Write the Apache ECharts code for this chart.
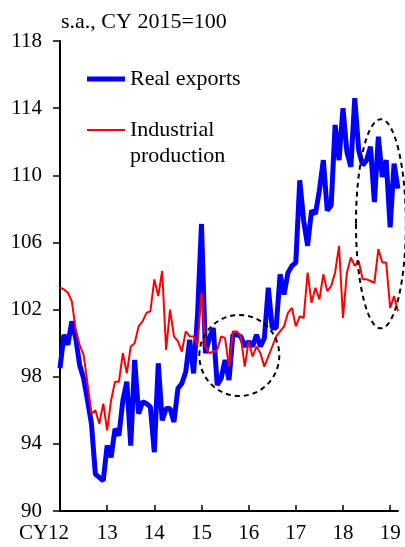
<!DOCTYPE html>
<html>
<head>
<meta charset="utf-8">
<script src="https://cdn.jsdelivr.net/npm/echarts@6/dist/echarts.min.js"></script>
<style>
html,body{margin:0;padding:0;background:#fff;}
#chart{width:405px;height:547px;}
</style>
</head>
<body>
<div id="chart"></div>
<script>
// Monthly data, Jan 2012 .. Mar 2019 (index 0 = Jan 2012)
const realExports = [
  98.5,100.5,99.9,101.3,100.3,98.7,97.9,96.6,95.2,92.2,92.0,91.8,
  93.9,93.2,94.9,94.5,96.6,97.7,93.9,99.0,95.8,96.5,96.4,96.2,
  93.5,98.8,95.4,96.1,96.1,95.3,97.3,97.6,98.3,100.2,98.2,101.7,
  107.1,99.4,100.3,100.9,97.5,97.9,99.0,97.8,100.5,100.5,100.4,99.8,
  100.1,99.8,100.5,99.8,100.3,103.3,100.9,100.9,104.1,102.9,104.2,104.6,
  104.8,109.7,107.3,105.8,107.9,107.7,109.1,110.9,107.9,108.2,113.0,110.9,
  114.0,111.4,110.5,114.6,111.5,110.6,110.9,111.7,108.4,112.3,109.9,110.9,
  106.9,110.7,109.2
];
const industrialProduction = [
  103.3,103.2,103.0,102.5,100.8,99.9,99.3,97.6,95.8,96.0,95.2,96.4,
  94.8,96.6,97.7,97.7,99.4,98.2,99.8,100.0,101.0,101.3,101.8,101.9,
  103.8,102.8,104.3,99.6,102.0,100.4,100.1,99.5,100.7,100.4,100.4,99.9,
  103.0,99.8,99.4,99.5,99.6,100.4,100.3,98.6,100.7,100.7,100.4,98.6,
  100.1,99.2,99.8,99.4,98.6,99.2,99.8,100.4,100.7,101.0,101.8,102.1,
  101.0,101.6,101.5,104.2,102.4,103.3,102.6,104.1,103.1,103.4,104.2,105.8,
  101.5,104.2,105.1,104.6,104.9,103.8,103.8,103.7,103.6,105.6,104.8,104.8,
  102.1,102.8,101.9
];
const tickMonths = [0,12,24,36,48,60,72,84];
const tickLabels = ['CY12','13','14','15','16','17','18','19'];
const yTicks = [90,94,98,102,106,110,114,118];
// dashed annotation ellipses: [xMin, xMax, yMin, yMax] in data units (month index, index value)
const ellipses = [
  [35.45, 55.8, 96.85, 101.68],
  [75.3, 88.0, 100.88, 113.34]
];

const FONT = '"Liberation Serif", "Times New Roman", serif';
const chart = echarts.init(document.getElementById('chart'), null, {renderer:'canvas'});

const option = {
  animation: false,
  backgroundColor: '#ffffff',
  title: {
    text: 's.a., CY 2015=100',
    left: 61, top: 11, padding: 0,
    textStyle: {fontFamily: FONT, fontSize: 22, fontWeight: 'normal', color: '#000'}
  },
  legend: [
    {
      data: ['Real exports'],
      left: 87, top: 66, padding: 0,
      icon: 'rect', itemWidth: 38, itemHeight: 5,
      textStyle: {fontFamily: FONT, fontSize: 22, color: '#000', lineHeight: 26},
      selectedMode: false
    },
    {
      data: ['Industrial production'],
      left: 87, top: 91, padding: 0,
      icon: 'rect', itemWidth: 38, itemHeight: 2,
      formatter: function () { return '\u00a0\nIndustrial\nproduction'; },
      textStyle: {fontFamily: FONT, fontSize: 22, color: '#000', lineHeight: 26},
      selectedMode: false
    }
  ],
  grid: {left: 60, right: 7, top: 41, bottom: 36, containLabel: false},
  xAxis: {
    type: 'value',
    min: 0, max: 86, interval: 12,
    splitLine: {show: false},
    axisLine: {lineStyle: {color: '#000', width: 2}},
    axisTick: {show: true, inside: true, length: 6, lineStyle: {color: '#000', width: 1.5}, customValues: tickMonths},
    axisLabel: {
      customValues: tickMonths,
      margin: 12,
      fontFamily: FONT, fontSize: 21, color: '#000',
      formatter: function (v) {
        const k = tickMonths.indexOf(v);
        if (k < 0) return '';
        return k === 0 ? '{cy|' + tickLabels[k] + '}' : tickLabels[k];
      },
      rich: {cy: {fontFamily: FONT, fontSize: 21, color: '#000', padding: [0, 32, 0, 0]}}
    }
  },
  yAxis: {
    type: 'value',
    min: yTicks[0], max: yTicks[yTicks.length - 1], interval: 4,
    splitLine: {show: false},
    axisLine: {show: true, lineStyle: {color: '#000', width: 2}},
    axisTick: {show: true, inside: false, length: 7, lineStyle: {color: '#000', width: 1.5}},
    axisLabel: {margin: 18, fontFamily: FONT, fontSize: 21, color: '#000'}
  },
  series: [
    {
      name: 'Real exports',
      type: 'line',
      data: realExports.map((v, i) => [i, v]),
      symbol: 'none', showSymbol: false,
      lineStyle: {color: '#0000ff', width: 5},
      itemStyle: {color: '#0000ff'},
      z: 2
    },
    {
      name: 'Industrial production',
      type: 'line',
      data: industrialProduction.map((v, i) => [i, v]),
      symbol: 'none', showSymbol: false,
      lineStyle: {color: '#ff0000', width: 2},
      itemStyle: {color: '#ff0000'},
      z: 3
    }
  ]
};
chart.setOption(option);

const els = ellipses.map(function (e) {
  const p1 = chart.convertToPixel({gridIndex: 0}, [e[0], e[2]]);
  const p2 = chart.convertToPixel({gridIndex: 0}, [e[1], e[3]]);
  return {
    type: 'ellipse',
    shape: {
      cx: (p1[0] + p2[0]) / 2, cy: (p1[1] + p2[1]) / 2,
      rx: Math.abs(p2[0] - p1[0]) / 2, ry: Math.abs(p2[1] - p1[1]) / 2
    },
    style: {fill: 'none', stroke: '#000', lineWidth: 2, lineDash: [5, 4]},
    z: 100
  };
});
chart.setOption({graphic: els});
</script>
</body>
</html>
